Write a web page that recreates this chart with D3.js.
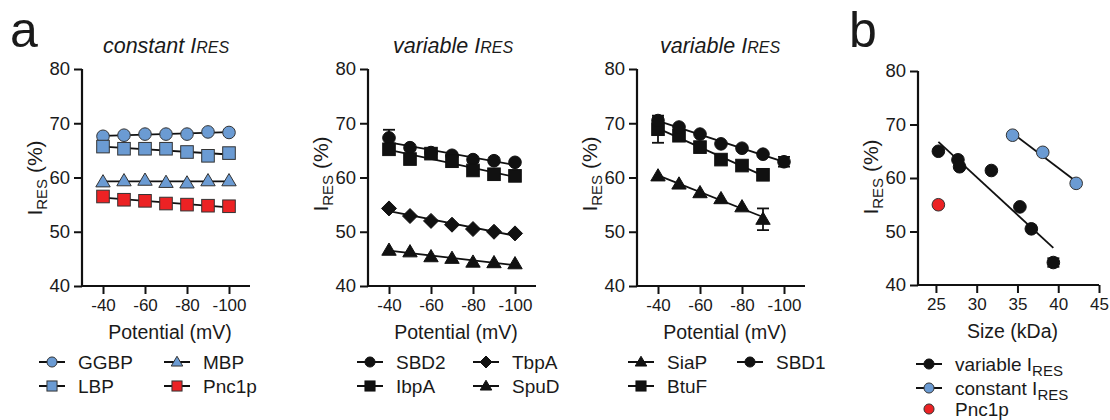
<!DOCTYPE html>
<html><head><meta charset="utf-8">
<script src="https://cdn.jsdelivr.net/npm/d3@7"></script>
<style>
body{margin:0;background:#fff}
text{font-family:"Liberation Sans",Arial,sans-serif;fill:#1a1a1a}
</style>
</head><body><svg id="c" width="1110" height="420"></svg>
<script>
// ---------- data ----------
const potentials = [-40,-50,-60,-70,-80,-90,-100];
const potTicks = [-40,-60,-80,-100];
const iresTicks = [40,50,60,70,80];
const sizeTicks = [25,30,35,40,45];

// panel a1: constant IRES
const ggbp  = [67.6,67.8,68.0,68.0,68.0,68.4,68.3];
const lbp   = [65.7,65.3,65.3,65.3,64.7,64.0,64.5];
const mbp   = [59.2,59.4,59.5,59.1,59.0,59.4,59.4];
const pnc1p = [56.5,55.9,55.7,55.2,55.0,54.8,54.7];

// panel a2: variable IRES
const sbd2 = [67.3,65.5,64.6,64.1,63.3,63.1,62.8];
const sbd2Err = [1.5,0,0,0,0,0,0];
const ibpA = [65.2,63.4,64.4,63.0,61.3,60.6,60.3];
const tbpA = [54.3,52.9,52.0,51.3,50.5,50.0,49.7];
const spuD = [46.6,46.3,45.4,45.1,44.4,44.3,44.1];

// panel a3: variable IRES
const siaP = [60.3,58.8,57.2,56.1,54.6,52.3];
const siaPErr = [0,0,0,0,0,2.0];
const btuF = [68.9,67.7,65.6,63.3,62.2,60.5];
const btuFErr = [2.5,0,0,0,0,0];
const sbd1 = [70.5,69.3,68.0,66.2,65.4,64.3,62.9];
const sbd1Err = [0.6,0,0,0,0,0,0.9];

// panel b: IRES vs size
const varSize = [25.3,27.7,27.9,31.8,35.3,36.7,39.4];
const varIres = [65.0,63.4,62.1,61.4,54.6,50.5,44.2];
const varErr  = [0,0,0,0,0,0,0.8];
const constSize = [34.4,38.1,42.2];
const constIres = [68.0,64.8,59.0];
const pncSize = [25.3];
const pncIres = [55.0];

// ---------- styles ----------
const BLUE = "#6b9bd3", RED = "#ec2224", BLACK = "#111";
const FONT_TICK = 17, FONT_AX = 19.5, FONT_LEG = 19;

const svg = d3.select("#c");

function regress(xs, ys){
  const n = xs.length, mx = d3.mean(xs), my = d3.mean(ys);
  let sxy=0, sxx=0;
  for(let i=0;i<n;i++){ sxy+=(xs[i]-mx)*(ys[i]-my); sxx+=(xs[i]-mx)**2; }
  const b = sxy/sxx, a = my - b*mx;
  return x => a + b*x;
}

function marker(g, type, x, y, fill, s){
  s = s || 1;
  const stroke = fill === BLACK ? BLACK : "#333";
  let el;
  if(type==="circle"){
    el = g.append("circle").attr("cx",x).attr("cy",y).attr("r",6.3*s);
  } else if(type==="square"){
    const h=6.3*s;
    el = g.append("rect").attr("x",x-h).attr("y",y-h).attr("width",2*h).attr("height",2*h);
  } else if(type==="triangle"){
    const h=7.2*s;
    el = g.append("path").attr("d",`M${x},${y-h} L${x+h*1.0},${y+h*0.7} L${x-h*1.0},${y+h*0.7}Z`);
  } else if(type==="diamond"){
    const h=7.5*s;
    el = g.append("path").attr("d",`M${x},${y-h} L${x+h},${y} L${x},${y+h} L${x-h},${y}Z`);
  }
  el.attr("fill",fill).attr("stroke",stroke).attr("stroke-width",1);
}

function yLabel(g, x, y){
  const t = g.append("text").attr("transform",`translate(${x},${y}) rotate(-90)`)
    .attr("text-anchor","middle").attr("font-size",21);
  t.append("tspan").text("I");
  t.append("tspan").attr("font-size",15).attr("dy",5).text("RES");
  t.append("tspan").attr("dy",-5).text(" (%)");
}

function title(g, x, y, word){
  const t = g.append("text").attr("x",x).attr("y",y).attr("text-anchor","middle")
    .attr("font-size",21.5).attr("font-style","italic");
  t.append("tspan").text(word+" I");
  t.append("tspan").attr("font-size",16).text("RES");
}

function drawAxes(p){
  const g = svg.append("g");
  const xs = d3.scaleLinear().domain(p.xDomain).range([p.left,p.right]);
  const ys = d3.scaleLinear().domain([40,80]).range([p.bottom,p.top]);
  const xa = g.append("g").attr("transform",`translate(0,${p.bottom})`)
    .call(d3.axisBottom(xs).tickValues(p.xTicks).tickSize(8).tickPadding(5).tickFormat(d => String(d)));
  const ya = g.append("g").attr("transform",`translate(${p.left},0)`)
    .call(d3.axisLeft(ys).tickValues(iresTicks).tickSize(8).tickPadding(4).tickFormat(d => String(d)));
  [xa,ya].forEach(a=>{
    a.select(".domain").attr("stroke","#111").attr("stroke-width",2.2)
      .attr("d", a===xa ? `M${p.left},0H${p.right}` : `M0,${p.bottom}V${p.top}`);
    a.selectAll(".tick line").attr("stroke","#111").attr("stroke-width",2);
    a.selectAll(".tick text").attr("font-size",FONT_TICK).attr("fill","#1a1a1a")
      .style("font-family","'Liberation Sans',Arial,sans-serif");
  });
  ya.selectAll(".tick text").attr("font-size",FONT_TICK+1.5);
  yLabel(g, p.left-40, p.yLabelY);
  g.append("text").attr("x",(p.left+p.right)/2+4).attr("y",p.bottom+53)
    .attr("text-anchor","middle").attr("font-size",FONT_AX).text(p.xLabel);
  return {g, xs, ys};
}

function drawSeries(ax, xvals, yvals, errs, type, fill){
  const {g, xs, ys} = ax;
  const f = regress(xvals, yvals);
  const x0 = d3.min(xvals), x1 = d3.max(xvals);
  if(errs){
    xvals.forEach((xv,i)=>{
      const e = errs[i]; if(!e) return;
      const px = xs(xv), y1 = ys(yvals[i]-e), y2 = ys(yvals[i]+e);
      g.append("line").attr("x1",px).attr("x2",px).attr("y1",y1).attr("y2",y2).attr("stroke","#111").attr("stroke-width",1.8);
      [y1,y2].forEach(yy=>g.append("line").attr("x1",px-6).attr("x2",px+6).attr("y1",yy).attr("y2",yy).attr("stroke","#111").attr("stroke-width",1.8));
    });
  }
  g.append("line").attr("x1",xs(x0)).attr("x2",xs(x1)).attr("y1",ys(f(x0))).attr("y2",ys(f(x1)))
    .attr("stroke","#111").attr("stroke-width",1.8);
  xvals.forEach((xv,i)=>marker(g, type, xs(xv), ys(yvals[i]), fill));
}

function legendItem(x, y, type, fill, label, line){
  const g = svg.append("g");
  if(line!==false) g.append("line").attr("x1",x-13).attr("x2",x+13).attr("y1",y).attr("y2",y).attr("stroke","#111").attr("stroke-width",2);
  marker(g, type, x, y, fill, 0.8);
  const t = g.append("text").attr("x",x+26).attr("y",y+7).attr("font-size",FONT_LEG);
  if(Array.isArray(label)){
    t.append("tspan").text(label[0]);
    t.append("tspan").attr("font-size",15).attr("dy",5).text(label[1]);
  } else t.text(label);
}

// ---------- panel labels ----------
svg.append("text").attr("x",10).attr("y",47).attr("font-size",50).text("a");
svg.append("text").attr("x",849).attr("y",47).attr("font-size",50).text("b");

// ---------- panel a1 ----------
const P1 = {left:82,right:250,top:69,bottom:286,xDomain:[-30,-110],xTicks:potTicks,xLabel:"Potential (mV)",yLabelY:178};
const a1 = drawAxes(P1);
title(svg, 166, 53, "constant");
drawSeries(a1, potentials, ggbp, null, "circle", BLUE);
drawSeries(a1, potentials, lbp, null, "square", BLUE);
drawSeries(a1, potentials, mbp, null, "triangle", BLUE);
drawSeries(a1, potentials, pnc1p, null, "square", RED);
legendItem(52, 362, "circle", BLUE, "GGBP");
legendItem(52, 386, "square", BLUE, "LBP");
legendItem(177, 362, "triangle", BLUE, "MBP");
legendItem(177, 386, "square", RED, "Pnc1p");

// ---------- panel a2 ----------
const P2 = {left:368,right:536,top:69,bottom:286,xDomain:[-30,-110],xTicks:potTicks,xLabel:"Potential (mV)",yLabelY:174};
const a2 = drawAxes(P2);
title(svg, 453, 53, "variable");
drawSeries(a2, potentials, sbd2, sbd2Err, "circle", BLACK);
drawSeries(a2, potentials, ibpA, null, "square", BLACK);
drawSeries(a2, potentials, tbpA, null, "diamond", BLACK);
drawSeries(a2, potentials, spuD, null, "triangle", BLACK);
legendItem(370, 362, "circle", BLACK, "SBD2");
legendItem(370, 386, "square", BLACK, "IbpA");
legendItem(486, 362, "diamond", BLACK, "TbpA");
legendItem(486, 386, "triangle", BLACK, "SpuD");

// ---------- panel a3 ----------
const P3 = {left:637,right:805,top:69,bottom:286,xDomain:[-30,-110],xTicks:potTicks,xLabel:"Potential (mV)",yLabelY:174};
const a3 = drawAxes(P3);
title(svg, 720, 53, "variable");
const pot6 = potentials.slice(0,6);
drawSeries(a3, pot6, siaP, siaPErr, "triangle", BLACK);
drawSeries(a3, pot6, btuF, btuFErr, "square", BLACK);
drawSeries(a3, potentials, sbd1, sbd1Err, "circle", BLACK);
legendItem(641, 362, "triangle", BLACK, "SiaP");
legendItem(641, 386, "square", BLACK, "BtuF");
legendItem(750, 362, "circle", BLACK, "SBD1");

// ---------- panel b ----------
const P4 = {left:918,right:1099,top:71,bottom:285,xDomain:[22.8,45],xTicks:sizeTicks,xLabel:"Size (kDa)",yLabelY:177};
const b = drawAxes(P4);
drawSeries(b, varSize, varIres, varErr, "circle", BLACK);
drawSeries(b, constSize, constIres, null, "circle", BLUE);
pncSize.forEach((s,i)=>marker(b.g, "circle", b.xs(s), b.ys(pncIres[i]), RED));
legendItem(929, 364, "circle", BLACK, ["variable I","RES"]);
legendItem(929, 388, "circle", BLUE, ["constant I","RES"]);
legendItem(929, 409, "circle", RED, "Pnc1p", false);
</script></body></html>
